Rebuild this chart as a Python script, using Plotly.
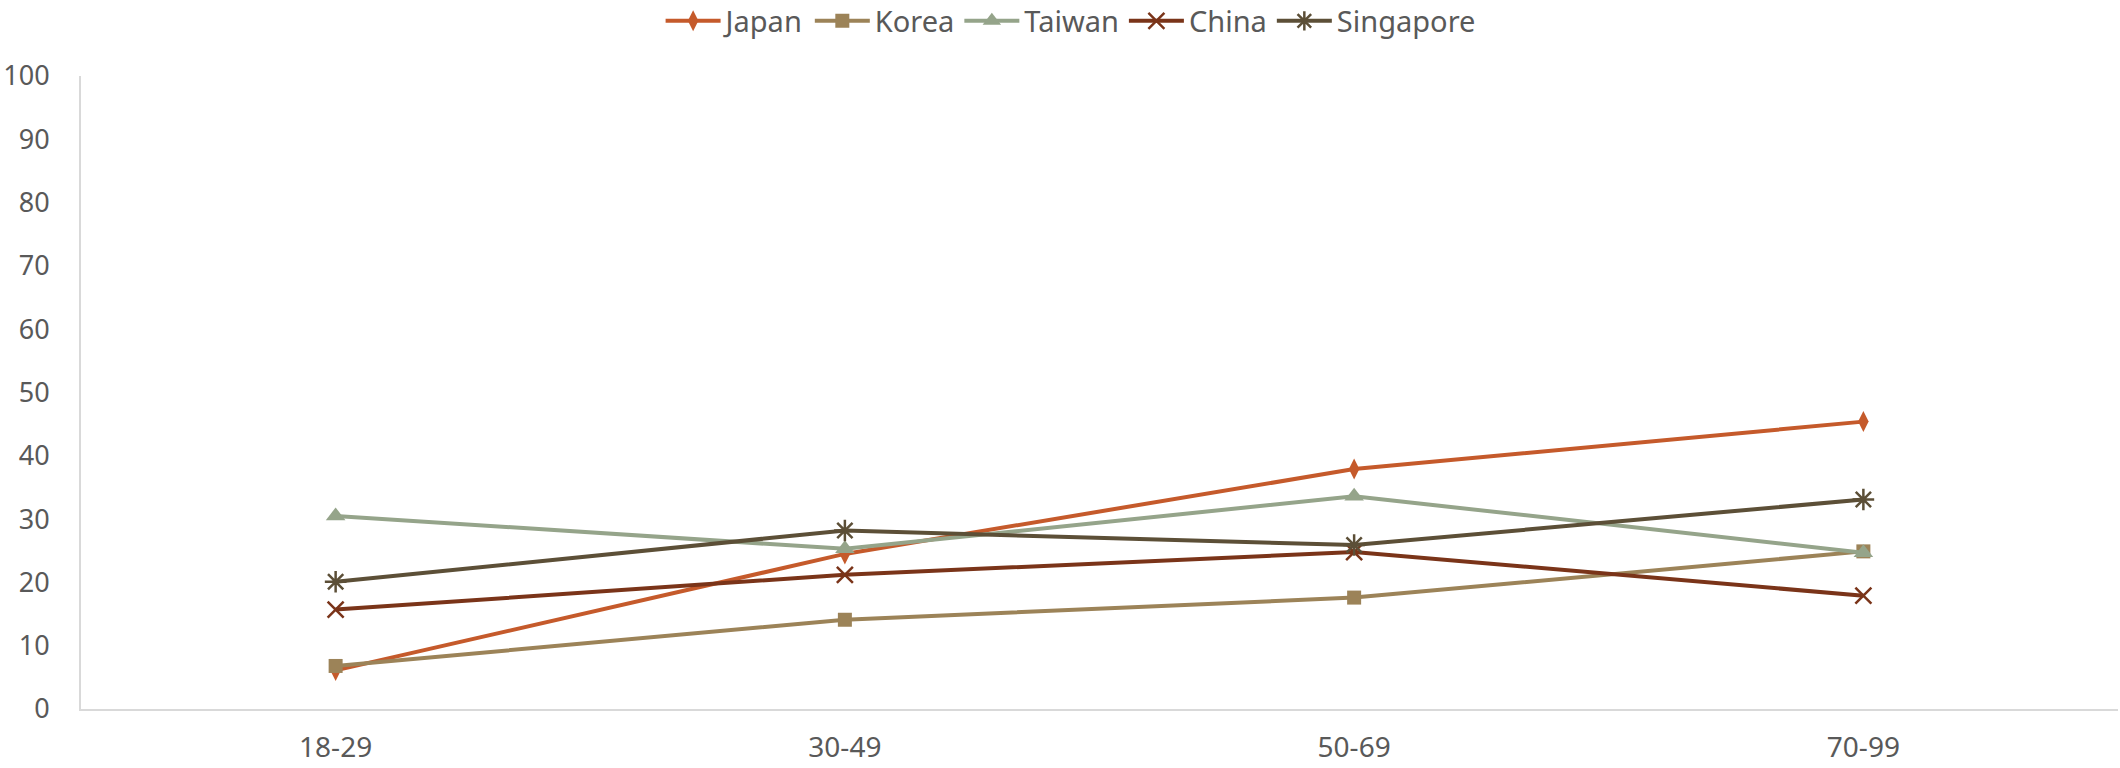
import plotly.graph_objects as go

categories = ["18-29", "30-49", "50-69", "70-99"]
japan = [6.1, 24.5, 37.9, 45.4]
korea = [6.8, 14.1, 17.6, 24.9]
taiwan = [30.5, 25.3, 33.6, 24.7]
china = [15.7, 21.2, 24.8, 17.9]
singapore = [20.1, 28.2, 25.9, 33.1]

series = [
    ("Japan", japan, "#C55A2B", "diamond-tall", 15, 0),
    ("Korea", korea, "#9C8358", "square", 14, 0),
    ("Taiwan", taiwan, "#95A48A", "triangle-up", 17, 0),
    ("China", china, "#7A3419", "x-thin-open", 16, 2.5),
    ("Singapore", singapore, "#5C4F37", "asterisk-open", 18, 2.5),
]

fig = go.Figure()
for name, vals, color, sym, size, lw in series:
    mk = dict(symbol=sym, size=size, color=color)
    if lw:
        mk["line"] = dict(color=color, width=lw)
    else:
        mk["line"] = dict(width=0)
    fig.add_trace(go.Scatter(
        x=categories, y=vals, name=name, mode="lines+markers",
        line=dict(color=color, width=4), marker=mk,
    ))

fig.update_layout(
    width=2120, height=768,
    margin=dict(l=81, r=2, t=76, b=59),
    paper_bgcolor="white", plot_bgcolor="white",
    font=dict(family="Noto Sans", color="#595959", size=21),
    showlegend=True,
    legend=dict(orientation="h", x=0.505, xanchor="center", xref="container",
                y=0.9727, yref="container", yanchor="middle",
                font=dict(size=29, color="#595959", family="Noto Sans"),
                itemwidth=55, tracegroupgap=0),
    xaxis=dict(type="category", range=[-0.5, 3.5], showgrid=False,
               showline=True, linecolor="#D9D9D9", linewidth=2,
               ticks="", tickfont=dict(size=28, color="#595959"),
               zeroline=False, ticklabelstandoff=12),
    yaxis=dict(range=[0, 100], dtick=10, showgrid=False, showline=True,
               linecolor="#D9D9D9", linewidth=2, ticks="", zeroline=False,
               tickfont=dict(size=27, color="#595959"),
               ticklabelstandoff=24),
)

fig.write_html("out.html")
